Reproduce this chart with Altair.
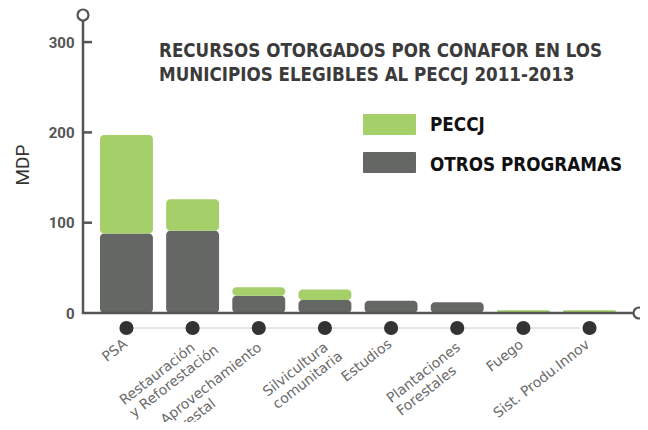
import altair as alt
import pandas as pd

categories = ["PSA", "Restauración\ny Reforestación", "Aprovechamiento\nforestal",
              "Silvicultura\ncomunitaria", "Estudios", "Plantaciones\nForestales",
              "Fuego", "Sist. Produ.Innov"]
otros = [88, 91, 19, 14.5, 13.5, 12, 0, 0]
peccj = [109, 35, 9.5, 11.5, 0, 0, 3, 3]
y_ticks = [0, 100, 200, 300]

title_lines = "RECURSOS OTORGADOS POR CONAFOR EN LOS\nMUNICIPIOS ELEGIBLES AL PECCJ 2011-2013"
legend_items = ["PECCJ", "OTROS PROGRAMAS"]

GREEN = "#a4cf69"
GRAY = "#656765"
AXIS = "#555555"
W, H = 557, 298
LABEL_SIZE = 14

# approximate DejaVu Sans advance widths (em) to left-align multi-line labels
_w = {" ": .318, ".": .318, "a": .613, "b": .635, "c": .550, "d": .635, "e": .615, "f": .352,
      "g": .635, "h": .634, "i": .278, "j": .278, "k": .579, "l": .278, "m": .974, "n": .634,
      "o": .612, "ó": .612, "p": .635, "q": .635, "r": .411, "s": .521, "t": .392, "u": .634,
      "v": .592, "w": .818, "x": .592, "y": .592, "z": .525, "A": .684, "P": .603, "R": .695,
      "S": .635, "E": .632, "F": .575, "I": .295}


def text_width(s):
    return sum(_w.get(ch, .6) for ch in s) * LABEL_SIZE


rows = []
for c, o, p in zip(categories, otros, peccj):
    rows.append({"cat": c, "serie": "OTROS PROGRAMAS", "v0": 0, "v1": o})
    rows.append({"cat": c, "serie": "PECCJ", "v0": o, "v1": o + p})
df = pd.DataFrame(rows)
df = df[df.v1 > df.v0]

cat_df = pd.DataFrame({"cat": categories})

xscale = alt.Scale(domain=categories, range=[17, 533], paddingInner=0.2, paddingOuter=0)
yscale = alt.Scale(domain=[0, 330], nice=False)

X = alt.X("cat:N", scale=xscale, axis=None, sort=categories)

bars = alt.Chart(df).mark_bar(cornerRadius=4).encode(
    x=X,
    y=alt.Y("v0:Q", scale=yscale,
            axis=alt.Axis(values=y_ticks, ticks=False, domain=False, grid=False,
                          labelFontSize=15, labelFontWeight="bold", labelColor=AXIS,
                          labelPadding=9, labelFont="Roboto", title=None)),
    y2="v1:Q",
    color=alt.Color("serie:N", scale=alt.Scale(domain=legend_items, range=[GREEN, GRAY]), legend=None),
)

one = cat_df.head(1)
vline = alt.Chart(one).mark_rule(color=AXIS, strokeWidth=2.5).encode(
    x=alt.value(0), y=alt.value(6), y2=alt.value(H + 1)
)
hline = alt.Chart(one).mark_rule(color=AXIS, strokeWidth=2.5).encode(
    x=alt.value(-1), x2=alt.value(W - 7), y=alt.value(H)
)
tick_df = pd.DataFrame({"t": y_ticks[1:]})
ticks = alt.Chart(tick_df).mark_rule(color=AXIS, strokeWidth=2.5).encode(
    x=alt.value(0), x2=alt.value(9), y=alt.Y("t:Q", scale=yscale)
)
circ_top = alt.Chart(one).mark_point(
    shape="circle", size=120, filled=True, fill="white", stroke=AXIS, strokeWidth=2.2, opacity=1
).encode(x=alt.value(0), y=alt.value(0))
circ_right = alt.Chart(one).mark_point(
    shape="circle", size=120, filled=True, fill="white", stroke=AXIS, strokeWidth=2.2, opacity=1
).encode(x=alt.value(W - 1), y=alt.value(H))

dot_line = alt.Chart(one).mark_rule(color="#cccccc", strokeWidth=1).encode(
    x=alt.X("cat:N", scale=xscale, axis=None, sort=categories, bandPosition=0.5),
    x2=alt.value(497), y=alt.value(H + 15)
)
dots = alt.Chart(cat_df).mark_circle(size=200, color="#333333", opacity=1).encode(
    x=X, y=alt.value(H + 15)
)

label_layers = []
for c in categories:
    first = c.split("\n")[0]
    two = "\n" in c
    label_layers.append(
        alt.Chart(cat_df).transform_filter(alt.datum.cat == c).mark_text(
            angle=322, align="left", baseline="alphabetic", fontSize=LABEL_SIZE,
            font="DejaVu Sans", color="#6a6a6a", lineBreak="\n", lineHeight=16,
            dx=-round(text_width(first), 1) + 2, dy=4 if two else 0
        ).encode(x=X, y=alt.value(H + 34), text="cat:N")
    )

title = alt.Chart(pd.DataFrame({"t": [title_lines]})).mark_text(
    align="left", baseline="alphabetic", fontSize=18.6, fontWeight="bold",
    font="DejaVu Sans Condensed", color="#3b3b3b", lineBreak="\n", lineHeight=23.5
).encode(x=alt.value(76), y=alt.value(42), text="t:N")

ylab = alt.Chart(pd.DataFrame({"t": ["MDP"]})).mark_text(
    angle=270, align="center", baseline="middle", fontSize=19, font="Roboto", color="#333333"
).encode(x=alt.value(-60), y=alt.value(150), text="t:N")

leg_df = pd.DataFrame({"serie": legend_items, "ytop": [99, 137], "ybot": [120, 158], "ytext": [116, 156]})
leg_rect = alt.Chart(leg_df).mark_rect(cornerRadius=1).encode(
    x=alt.value(280), x2=alt.value(333),
    y=alt.Y("ytop:Q", scale=None), y2="ybot:Q",
    color=alt.Color("serie:N", scale=alt.Scale(domain=legend_items, range=[GREEN, GRAY]), legend=None),
)
leg_text = alt.Chart(leg_df).mark_text(
    align="left", baseline="alphabetic", fontSize=18.7, fontWeight="bold",
    font="DejaVu Sans Condensed", color="#111111"
).encode(x=alt.value(347), y=alt.Y("ytext:Q", scale=None), text="serie:N")

chart = alt.layer(
    bars, vline, hline, ticks, circ_top, circ_right, dot_line, dots, *label_layers,
    title, ylab, leg_rect, leg_text
).properties(
    width=W, height=H,
    padding={"left": 75, "top": 7, "right": 0, "bottom": 109},
    autosize=alt.AutoSizeParams(type="none"),
).configure_view(stroke=None)

chart.save("out.html", embed_options={"renderer": "svg", "actions": False})
